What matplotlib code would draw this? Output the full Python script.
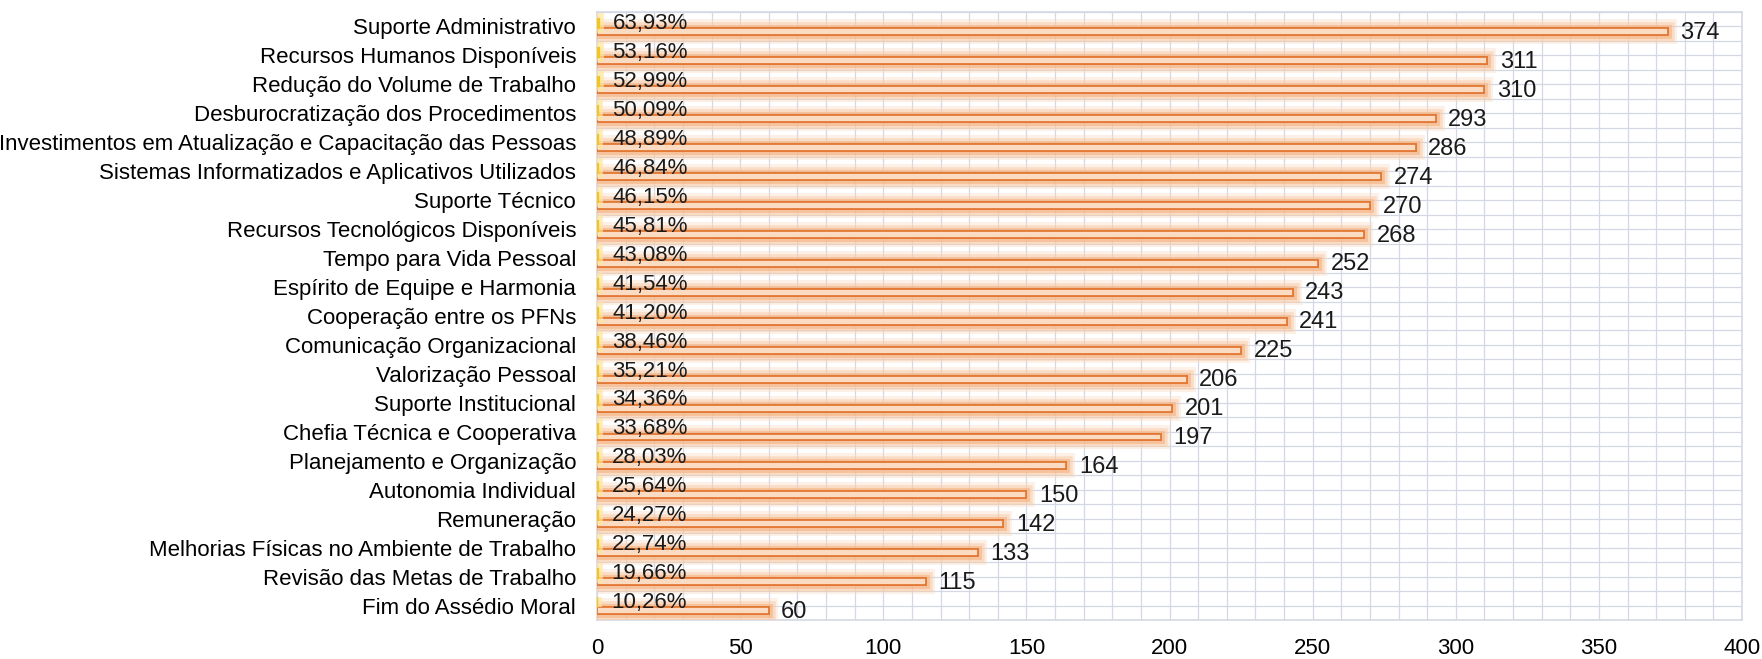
import matplotlib
matplotlib.use('Agg')
import matplotlib.pyplot as plt
import matplotlib.patheffects as pe
import numpy as np

plt.rcParams['font.family'] = ['Liberation Sans', 'DejaVu Sans']

# categorias (de cima para baixo) e respostas
categorias = [
    'Suporte Administrativo',
    'Recursos Humanos Disponíveis',
    'Redução do Volume de Trabalho',
    'Desburocratização dos Procedimentos',
    'Investimentos em Atualização e Capacitação das Pessoas',
    'Sistemas Informatizados e Aplicativos Utilizados',
    'Suporte Técnico',
    'Recursos Tecnológicos Disponíveis',
    'Tempo para Vida Pessoal',
    'Espírito de Equipe e Harmonia',
    'Cooperação entre os PFNs',
    'Comunicação Organizacional',
    'Valorização Pessoal',
    'Suporte Institucional',
    'Chefia Técnica e Cooperativa',
    'Planejamento e Organização',
    'Autonomia Individual',
    'Remuneração',
    'Melhorias Físicas no Ambiente de Trabalho',
    'Revisão das Metas de Trabalho',
    'Fim do Assédio Moral',
]
contagens = [374, 311, 310, 293, 286, 274, 270, 268, 252, 243, 241,
             225, 206, 201, 197, 164, 150, 142, 133, 115, 60]
percentuais = [63.93, 53.16, 52.99, 50.09, 48.89, 46.84, 46.15, 45.81,
               43.08, 41.54, 41.20, 38.46, 35.21, 34.36, 33.68, 28.03,
               25.64, 24.27, 22.74, 19.66, 10.26]

n = len(categorias)
y = np.arange(n)

fig = plt.figure(figsize=(17.62, 6.59), dpi=100)
ax = fig.add_axes([597 / 1762, 1 - 620 / 659, (1742 - 597) / 1762, 608 / 659])

grid_cor = '#D5D8E4'
laranja_borda = '#E27A36'
laranja_fundo = '#FBDCC2'

# brilho suave em volta das barras
brilho = [pe.withStroke(linewidth=13, foreground='#FBD9BD', alpha=0.35),
          pe.withStroke(linewidth=9, foreground='#F8C49C', alpha=0.45),
          pe.withStroke(linewidth=5, foreground='#F4AE7C', alpha=0.55),
          pe.Normal()]
brilho_amarelo = [pe.withStroke(linewidth=7, foreground='#FFE699', alpha=0.7),
                  pe.Normal()]

ax.barh(y + 0.18, contagens, height=0.24, color=laranja_fundo,
        edgecolor=laranja_borda, linewidth=1.3, path_effects=brilho, zorder=3)
ax.barh(y - 0.12, [p / 100 for p in percentuais], height=0.36,
        color='#F5C518', edgecolor='#F5C518', linewidth=0.8,
        path_effects=brilho_amarelo, zorder=3)

for yi, c, p in zip(y, contagens, percentuais):
    ax.annotate(f'{c}', xy=(c, yi + 0.22), xytext=(9, 0),
                textcoords='offset points', ha='left', va='center',
                fontsize=17, color='#1a1a1a', zorder=5)
    ax.annotate(f'{p:.2f}%'.replace('.', ','), xy=(p / 100, yi - 0.1),
                xytext=(10, 0), textcoords='offset points', ha='left',
                va='center', fontsize=16, color='#1a1a1a', zorder=5)

ax.set_xlim(0, 400)
ax.set_ylim(n - 0.5, -0.5)
ax.set_xticks(np.arange(0, 401, 50))
ax.set_xticks(np.arange(0, 401, 10), minor=True)
ax.set_yticks(y)
ax.set_yticklabels(categorias, fontsize=16)
ax.set_yticks(np.arange(-0.5, n, 0.5), minor=True)
ax.tick_params(axis='x', which='both', length=0, labelsize=16, pad=13)
ax.tick_params(axis='y', which='both', length=0, pad=15)
ax.grid(True, which='both', color=grid_cor, linewidth=0.9, zorder=0)
ax.set_axisbelow(True)
for s in ax.spines.values():
    s.set_color(grid_cor)
    s.set_linewidth(1.2)

fig.savefig('out.png', dpi=100, facecolor='white')
